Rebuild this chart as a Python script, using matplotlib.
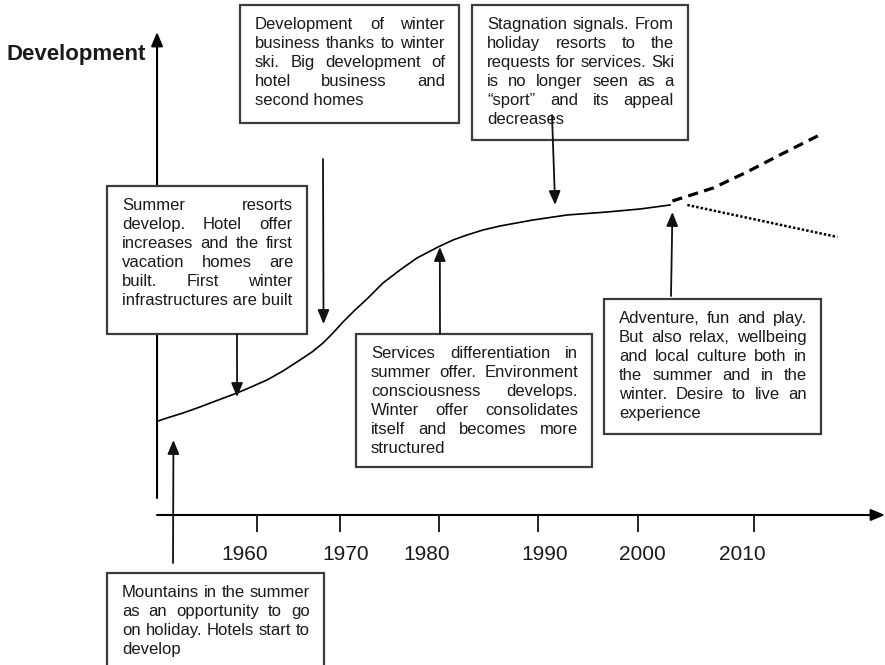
import numpy as np
import matplotlib
matplotlib.use('Agg')
import matplotlib.pyplot as plt
import matplotlib.transforms as mtransforms
from matplotlib.patches import Rectangle

# ---------------- data ----------------
curve_years = [1951.25, 1952.15, 1953.76, 1955.47, 1957.18, 1959.20, 1960.50,
               1962.21, 1963.82, 1965.53, 1966.74, 1967.85, 1968.85, 1969.86,
               1971.07, 1972.27, 1973.88, 1975.59, 1977.30, 1979.42, 1980.93,
               1982.33, 1983.94, 1985.65, 1988.97, 1992.39, 1996.42, 1999.74,
               2002.76]
curve_dev = [9.4, 9.7, 10.2, 10.8, 11.45, 12.2, 12.75,
             13.5, 14.4, 15.5, 16.3, 17.2, 18.2, 19.3,
             20.5, 21.6, 23.2, 24.5, 25.7, 26.8, 27.5,
             28.0, 28.5, 28.9, 29.5, 30.0, 30.3, 30.6,
             31.0]
rise_years = [2003.0, 2007.1, 2010.5, 2013.8, 2018.0]
rise_dev = [31.4, 32.7, 34.3, 36.0, 38.1]
decline_years = [2004.5, 2019.6]
decline_dev = [31.0, 27.8]

tick_years = [1961.2, 1969.6, 1979.5, 1989.5, 1999.5, 2011.2]
label_years = [1960.0, 1970.1, 1978.3, 1990.1, 2000.0, 2010.0]
tick_labels = ['1960', '1970', '1980', '1990', '2000', '2010']
y_title = 'Development'

note_mountains = ["Mountains in the summer", "as an opportunity to go",
                  "on holiday. Hotels start to", "develop"]
note_summer = ["Summer resorts", "develop. Hotel offer", "increases and the first",
               "vacation homes are", "built. First winter", "infrastructures are built"]
note_winter = ["Development of winter", "business thanks to winter",
               "ski. Big development of", "hotel business and", "second homes"]
note_services = ["Services differentiation in", "summer offer. Environment",
                 "consciousness develops.", "Winter offer consolidates",
                 "itself and becomes more", "structured"]
note_stagnation = ["Stagnation signals. From", "holiday resorts to the",
                   "requests for services. Ski", "is no longer seen as a",
                   "\u201csport\u201d and its appeal", "decreases"]
note_adventure = ["Adventure, fun and play.", "But also relax, wellbeing",
                  "and local culture both in", "the summer and in the",
                  "winter. Desire to live an", "experience"]

# arrow targets (data coords: year, development)
arrow_tip_years = [1952.8, 1959.2, 1967.9, 1979.6, 1991.2, 2003.0]
arrow_tip_dev = [7.5, 11.8, 19.1, 26.8, 31.0, 30.3]

# ---------------- layout ----------------
W, H = 885, 665
FONT = ['Liberation Sans', 'DejaVu Sans']
TXT = '#1a1a1a'
EDGE = '#3c3c3c'

fig = plt.figure(figsize=(W / 100, H / 100), dpi=100)
fig.patch.set_facecolor('white')
ax = fig.add_axes([0, 0, 1, 1])
ax.set_axis_off()
ax.set_xlim(1960 - 245 / 9.94, 1960 + 640 / 9.94)
ax.set_ylim(-15.0, 51.5)

# layout transform in pixel units, origin top-left
L = mtransforms.Affine2D().scale(1 / W, -1 / H).translate(0, 1) + fig.transFigure

head = '-|>,head_length=0.6,head_width=0.25'

# axes
ax.annotate('', xy=(1951.15, 48.3), xytext=(1951.15, 1.7),
            arrowprops=dict(arrowstyle=head, lw=1.5, color='black',
                            shrinkA=0, shrinkB=0, mutation_scale=14), zorder=1)
xmax = ax.get_xlim()[1]
ax.annotate('', xy=(xmax, 0), xytext=(1951.15, 0),
            arrowprops=dict(arrowstyle=head, lw=1.5, color='black',
                            shrinkA=0, shrinkB=0, mutation_scale=14), zorder=1)
ax.vlines(tick_years, -1.7, 0, color='#222222', lw=1.4, zorder=1)
for yr, lab in zip(label_years, tick_labels):
    ax.text(yr, -4.5, lab, ha='center', va='baseline', fontsize=15,
            family=FONT, color=TXT)

fig.text(7 / W, 1 - 60 / H, y_title, fontsize=16, fontweight='bold',
         family=FONT, color=TXT, ha='left', va='baseline')

# curves
ax.plot(curve_years, curve_dev, color='black', lw=1.2, zorder=2,
        solid_joinstyle='round')
ax.plot(rise_years, rise_dev, color='black', lw=2.3,
        linestyle=(0, (3.2, 2.0)), zorder=2)
ax.plot(decline_years, decline_dev, color='black', lw=1.8,
        linestyle=(0, (1.0, 0.8)), zorder=2)

renderer = fig.canvas.get_renderer()
scale_px = W / fig.bbox.width


def measure(word, size):
    t = fig.text(0, 0, word, fontsize=size, family=FONT)
    w = t.get_window_extent(renderer).width * scale_px
    t.remove()
    return w


def draw_note(lines, box, size=12):
    x0, y0, x1, y1 = box
    ax.add_patch(Rectangle((x0, y0), x1 - x0, y1 - y0, transform=L,
                           facecolor='white', edgecolor=EDGE, lw=1.6,
                           zorder=3, clip_on=False))
    left, right = x0 + 15, x1 - 14
    for i, line in enumerate(lines):
        yb = y0 + 24 + 19 * i
        words = line.split()
        if i == len(lines) - 1:
            ax.text(left, yb, line, transform=L, ha='left', va='baseline',
                    fontsize=size, family=FONT, color=TXT, zorder=4)
            continue
        widths = [measure(w, size) for w in words]
        if len(words) == 1:
            gap = 0
        else:
            gap = (right - left - sum(widths)) / (len(words) - 1)
        x = left
        for w, wd in zip(words, widths):
            ax.text(x, yb, w, transform=L, ha='left', va='baseline',
                    fontsize=size, family=FONT, color=TXT, zorder=4)
            x += wd + gap


draw_note(note_winter, (240, 5, 459, 123))
draw_note(note_stagnation, (472, 5, 688, 140))
draw_note(note_summer, (107, 186, 307, 334))
draw_note(note_services, (356, 334, 592, 467))
draw_note(note_adventure, (604, 299, 821, 434))
draw_note(note_mountains, (107, 573, 324, 672))

# annotation arrows: tails in layout pixels, tips in data coords
tails = [(173, 563), (237, 334), (323, 159), (440, 334), (552, 115), (671, 296)]
for (tx, ty), yr, dv in zip(tails, arrow_tip_years, arrow_tip_dev):
    ax.annotate('', xy=(yr, dv), xycoords='data', xytext=(tx, ty), textcoords=L,
                arrowprops=dict(arrowstyle=head, lw=1.3, color='#111111',
                                shrinkA=0, shrinkB=0, mutation_scale=14),
                zorder=5)

fig.savefig('out.png', dpi=100, facecolor='white')
